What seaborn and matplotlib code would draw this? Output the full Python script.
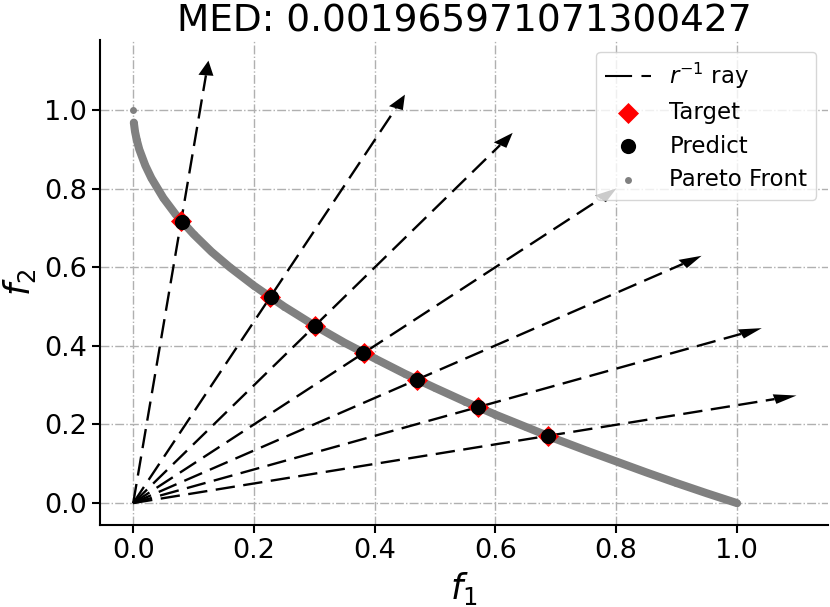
import seaborn as sns
import pandas as pd
import matplotlib.pyplot as plt
from matplotlib.lines import Line2D
import numpy as np

# values
front_f1 = [0.0, 0.001, 0.003, 0.006, 0.01, 0.02, 0.03, 0.05, 0.07, 0.1, 0.13, 0.16,
            0.2, 0.25, 0.3, 0.35, 0.4, 0.45, 0.5, 0.55, 0.6, 0.65, 0.7, 0.75,
            0.8, 0.85, 0.9, 0.95, 1.0]
front_f2 = [1.0, 0.968, 0.945, 0.923, 0.90, 0.859, 0.827, 0.776, 0.735, 0.684, 0.639, 0.60,
            0.553, 0.50, 0.452, 0.408, 0.368, 0.329, 0.293, 0.258, 0.225, 0.194, 0.163, 0.134,
            0.106, 0.078, 0.051, 0.025, 0.0]

target_f1 = [0.0795, 0.227, 0.301, 0.382, 0.470, 0.571, 0.687]
target_f2 = [0.718, 0.524, 0.451, 0.382, 0.314, 0.244, 0.171]

pred_f1 = [0.0805, 0.228, 0.302, 0.381, 0.471, 0.572, 0.688]
pred_f2 = [0.716, 0.523, 0.450, 0.383, 0.313, 0.245, 0.170]

med = 0.001965971071300427

df_front = pd.DataFrame({'f1': front_f1, 'f2': front_f2})
df_t = pd.DataFrame({'f1': target_f1, 'f2': target_f2})
df_p = pd.DataFrame({'f1': pred_f1, 'f2': pred_f2})

sns.set_style('ticks')
plt.rcParams['font.family'] = ['DejaVu Sans']
plt.rcParams['text.color'] = 'black'
plt.rcParams['axes.labelcolor'] = 'black'
plt.rcParams['xtick.color'] = 'black'
plt.rcParams['ytick.color'] = 'black'

fig = plt.figure(figsize=(8.3, 6.07), dpi=100)
ax = fig.add_axes([0.1205, 0.135, 0.877, 0.799])

# rays r^-1 through the targets: dashed shaft + solid head
L = 1.095
for x, y in zip(target_f1, target_f2):
    n = np.hypot(x, y)
    ux, uy = x / n, y / n
    ax.plot([0, L * ux], [0, L * uy], color='black', lw=1.7,
            linestyle=(0, (8.2, 3.6)), zorder=3)
    ax.arrow(L * ux, L * uy, 1e-6 * ux, 1e-6 * uy, width=0, head_width=0.025,
             head_length=0.0375, color='black', lw=0, zorder=3)

sns.lineplot(data=df_front.iloc[1:], x='f1', y='f2', color='gray', lw=5.8,
             solid_capstyle='round', ax=ax, zorder=2)
sns.scatterplot(data=df_front, x='f1', y='f2', color='gray', s=25, linewidth=0,
                label='Pareto Front', ax=ax, zorder=2)
sns.scatterplot(data=df_t, x='f1', y='f2', color='red', marker='D', s=115, linewidth=0,
                label='Target', ax=ax, zorder=4)
sns.scatterplot(data=df_p, x='f1', y='f2', color='black', marker='o', s=120, linewidth=0,
                label='Predict', ax=ax, zorder=5)

ax.set_xlim(-0.055, 1.151)
ax.set_ylim(-0.056, 1.178)
ax.set_xticks([0.0, 0.2, 0.4, 0.6, 0.8, 1.0])
ax.set_yticks([0.0, 0.2, 0.4, 0.6, 0.8, 1.0])
ax.tick_params(labelsize=19.5, width=1.5, length=6, color='black')
for s in ['left', 'bottom']:
    ax.spines[s].set_linewidth(1.5)
    ax.spines[s].set_color('black')
sns.despine(ax=ax)
ax.grid(True, linestyle='-.', color='#b0b0b0', lw=1)

ax.set_xlabel('$f_1$', fontsize=25)
ax.set_ylabel('$f_2$', fontsize=25)
ax.set_title('MED: ' + str(med), fontsize=27)

h, l = ax.get_legend_handles_labels()
d = dict(zip(l, h))
ray = Line2D([], [], color='black', lw=1.5, linestyle=(0, (13, 4.5)))
ax.legend([ray, d['Target'], d['Predict'], d['Pareto Front']],
          ['$r^{-1}$ ray', 'Target', 'Predict', 'Pareto Front'],
          loc='upper right', fontsize=16.5, labelspacing=0.45)

fig.savefig('out.png', dpi=100)
